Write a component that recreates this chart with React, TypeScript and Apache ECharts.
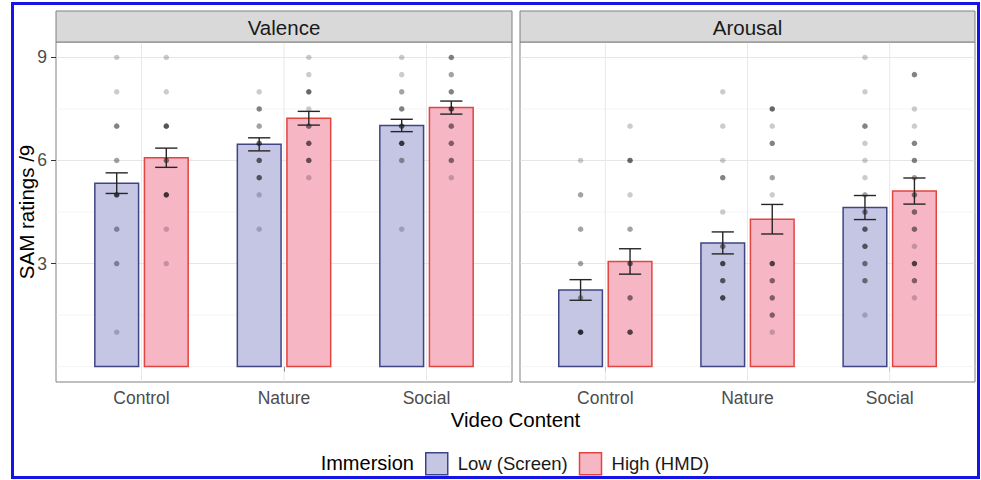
import React, { useEffect, useRef } from "react";
import * as echarts from "echarts";

// ---------- data ----------
const categories = ["Control", "Nature", "Social"];
const groupNames = ["Low (Screen)", "High (HMD)"];
const facetNames = ["Valence", "Arousal"];

const valenceLowMean = [5.34, 6.47, 7.02];
const valenceLowSE = [0.3, 0.19, 0.18];
const valenceHighMean = [6.08, 7.23, 7.54];
const valenceHighSE = [0.28, 0.2, 0.19];

const arousalLowMean = [2.23, 3.6, 4.63];
const arousalLowSE = [0.3, 0.32, 0.35];
const arousalHighMean = [3.06, 4.29, 5.11];
const arousalHighSE = [0.37, 0.43, 0.38];

const yTicks = [3, 6, 9];
const yMinorGrid = [0, 1.5, 4.5, 7.5];

// individual ratings: [category (1-based), rating, number of overlapping participants]
const valenceLowPts = [
  [1, 9, 1], [1, 8, 1], [1, 7, 3], [1, 6, 2], [1, 5, 6], [1, 4, 2], [1, 3, 2], [1, 1, 1],
  [2, 8, 1], [2, 7.5, 3], [2, 7, 2], [2, 6.5, 4], [2, 6, 4], [2, 5.5, 4], [2, 5, 1], [2, 4, 1],
  [3, 9, 1], [3, 8.5, 1], [3, 8, 2], [3, 7.5, 3], [3, 7, 4], [3, 6.5, 6], [3, 6, 2], [3, 4, 1],
];
const valenceHighPts = [
  [1, 9, 1], [1, 8, 1], [1, 7, 5], [1, 6, 3], [1, 5, 6], [1, 4, 1], [1, 3, 1],
  [2, 9, 1], [2, 8.5, 1], [2, 8, 4], [2, 7.5, 1], [2, 7, 3], [2, 6.5, 4], [2, 6, 4], [2, 5.5, 1],
  [3, 9, 3], [3, 8.5, 2], [3, 8, 3], [3, 7.5, 5], [3, 7, 3], [3, 6.5, 3], [3, 6, 3], [3, 5.5, 1],
];
const arousalLowPts = [
  [1, 6, 1], [1, 5, 2], [1, 4, 2], [1, 3, 2], [1, 2, 2], [1, 1, 7],
  [2, 8, 1], [2, 7, 1], [2, 6, 1], [2, 5.5, 3], [2, 4.5, 1], [2, 3.5, 3], [2, 3, 5], [2, 2.5, 4], [2, 2, 5],
  [3, 9, 1], [3, 8, 1], [3, 7, 3], [3, 6.5, 1], [3, 6, 1], [3, 5.5, 1], [3, 5, 2], [3, 4.5, 3],
  [3, 4, 4], [3, 3.5, 4], [3, 3, 3], [3, 2.5, 3], [3, 1.5, 1],
];
const arousalHighPts = [
  [1, 7, 1], [1, 6, 4], [1, 5, 1], [1, 4, 2], [1, 3, 4], [1, 2, 3], [1, 1, 5],
  [2, 7.5, 4], [2, 7, 1], [2, 6.5, 3], [2, 5.5, 2], [2, 5, 1], [2, 3, 5], [2, 2.5, 3], [2, 2, 3], [2, 1.5, 3], [2, 1, 1],
  [3, 8.5, 3], [3, 7.5, 1], [3, 7, 1], [3, 6.5, 3], [3, 6, 3], [3, 5.5, 2], [3, 5, 3], [3, 4.5, 3],
  [3, 4, 3], [3, 3.5, 1], [3, 3, 5], [3, 2.5, 3], [3, 2, 1],
];

// ---------- style ----------
const FONT = '"Liberation Sans", Arial, Helvetica, sans-serif';
const LOW_FILL = "#c5c6e4";
const LOW_STROKE = "#3f4484";
const HIGH_FILL = "#f6b6c4";
const HIGH_STROKE = "#e2443f";
const PANEL_BORDER = "#808080";
const DODGE = 0.174;
const BAR_HALF = 0.1535;
const CAP_HALF = 0.078;
const POINT_ALPHA = 0.2;

const facets = [
  {
    low: { mean: valenceLowMean, se: valenceLowSE, pts: valenceLowPts },
    high: { mean: valenceHighMean, se: valenceHighSE, pts: valenceHighPts },
  },
  {
    low: { mean: arousalLowMean, se: arousalLowSE, pts: arousalLowPts },
    high: { mean: arousalHighMean, se: arousalHighSE, pts: arousalHighPts },
  },
];

const panels = [
  { left: 56, width: 456 },
  { left: 520, width: 455 },
];
const PANEL_TOP = 42;
const PANEL_H = 340;
const STRIP_TOP = 11;

function buildSeries(f: number) {
  const fac = facets[f];
  const series: any[] = [];
  // grid lines
  const gridData: number[][] = [];
  yTicks.forEach((v) => gridData.push([1, v, 0]));
  yMinorGrid.forEach((v) => gridData.push([1, v, 1]));
  categories.forEach((_, i) => gridData.push([i + 1, 0, 2]));
  series.push({
    type: "custom",
    name: "grid" + f,
    xAxisIndex: f,
    yAxisIndex: f,
    z: 1,
    silent: true,
    data: gridData,
    renderItem: (params: any, api: any) => {
      const kind = api.value(2);
      if (kind === 2) {
        const x = api.value(0);
        const a = api.coord([x, 9.45]);
        const b = api.coord([x, -0.45]);
        return {
          type: "line",
          shape: { x1: a[0], y1: a[1] + 0.5, x2: b[0], y2: b[1] - 0.5 },
          style: { stroke: "#e8e8e8", lineWidth: 1 },
        };
      }
      const v = api.value(1);
      const a = api.coord([0.4, v]);
      const b = api.coord([3.6, v]);
      return {
        type: "line",
        shape: { x1: a[0] + 0.5, y1: a[1], x2: b[0] - 0.5, y2: b[1] },
        style: { stroke: kind === 0 ? "#e6e6e6" : "#f1f1f1", lineWidth: kind === 0 ? 1 : 0.8 },
      };
    },
  });

  const groups = [
    { g: fac.low, off: -DODGE, fill: LOW_FILL, stroke: LOW_STROKE, name: groupNames[0] },
    { g: fac.high, off: DODGE, fill: HIGH_FILL, stroke: HIGH_STROKE, name: groupNames[1] },
  ];

  groups.forEach((gr) => {
    series.push({
      type: "custom",
      name: gr.name,
      xAxisIndex: f,
      yAxisIndex: f,
      z: 2,
      itemStyle: { color: gr.fill, borderColor: gr.stroke },
      data: categories.map((_, i) => [i + 1 + gr.off, gr.g.mean[i]]),
      renderItem: (params: any, api: any) => {
        const x = api.value(0);
        const m = api.value(1);
        const p1 = api.coord([x - BAR_HALF, m]);
        const p2 = api.coord([x + BAR_HALF, 0]);
        return {
          type: "rect",
          shape: { x: p1[0], y: p1[1], width: p2[0] - p1[0], height: p2[1] - p1[1] },
          style: { fill: gr.fill, stroke: gr.stroke, lineWidth: 1.5 },
        };
      },
    });
  });

  groups.forEach((gr) => {
    series.push({
      type: "scatter",
      name: "pts" + f + gr.name,
      xAxisIndex: f,
      yAxisIndex: f,
      z: 3,
      silent: true,
      symbol: "circle",
      symbolSize: 5.5,
      itemStyle: { color: "#000" },
      data: gr.g.pts.map((p) => ({
        value: [p[0] + gr.off, p[1]],
        itemStyle: { opacity: 1 - Math.pow(1 - POINT_ALPHA, p[2]) },
      })),
    });
  });

  groups.forEach((gr) => {
    series.push({
      type: "custom",
      name: "err" + f + gr.name,
      xAxisIndex: f,
      yAxisIndex: f,
      z: 4,
      silent: true,
      data: categories.map((_, i) => [i + 1 + gr.off, gr.g.mean[i], gr.g.se[i]]),
      renderItem: (params: any, api: any) => {
        const x = api.value(0);
        const m = api.value(1);
        const se = api.value(2);
        const top = api.coord([x, m + se]);
        const bot = api.coord([x, m - se]);
        const l = api.coord([x - CAP_HALF, m])[0];
        const r = api.coord([x + CAP_HALF, m])[0];
        const st = { stroke: "#262626", lineWidth: 1.4 };
        return {
          type: "group",
          children: [
            { type: "line", shape: { x1: top[0], y1: top[1], x2: bot[0], y2: bot[1] }, style: st },
            { type: "line", shape: { x1: l, y1: top[1], x2: r, y2: top[1] }, style: st },
            { type: "line", shape: { x1: l, y1: bot[1], x2: r, y2: bot[1] }, style: st },
          ],
        };
      },
    });
  });
  return series;
}

function isInt(v: number) {
  return Math.abs(v - Math.round(v)) < 1e-6;
}

export default function App() {
  const ref = useRef<HTMLDivElement>(null);
  useEffect(() => {
    if (!ref.current) return;
    const chart = echarts.init(ref.current, undefined, { renderer: "svg" });
    const graphics: any[] = [];
    // outer blue frame
    graphics.push({
      type: "rect",
      shape: { x: 12.5, y: 3.5, width: 966, height: 474 },
      style: { fill: "none", stroke: "#1414e6", lineWidth: 3 },
      z: 100,
    });
    panels.forEach((p, f) => {
      graphics.push({
        type: "rect",
        shape: { x: p.left, y: STRIP_TOP, width: p.width, height: PANEL_TOP - STRIP_TOP },
        style: { fill: "#d9d9d9", stroke: PANEL_BORDER, lineWidth: 1 },
        z: 10,
      });
      graphics.push({
        type: "text",
        x: p.left + p.width / 2,
        y: (STRIP_TOP + PANEL_TOP) / 2 + 1,
        style: {
          text: facetNames[f],
          fontFamily: FONT,
          fontSize: 20.5,
          fill: "#1a1a1a",
          textAlign: "center",
          textVerticalAlign: "middle",
        },
        z: 11,
      });
    });
    graphics.push({
      type: "text",
      x: 26,
      y: PANEL_TOP + PANEL_H / 2,
      rotation: Math.PI / 2,
      style: {
        text: "SAM ratings /9",
        fontFamily: FONT,
        fontSize: 20.5,
        fill: "#000",
        textAlign: "center",
        textVerticalAlign: "middle",
      },
    });
    graphics.push({
      type: "text",
      x: (panels[0].left + panels[1].left + panels[1].width) / 2,
      y: 419,
      style: {
        text: "Video Content",
        fontFamily: FONT,
        fontSize: 20.5,
        fill: "#000",
        textAlign: "center",
        textVerticalAlign: "middle",
      },
    });
    graphics.push({
      type: "text",
      x: 414,
      y: 463,
      style: {
        text: "Immersion",
        fontFamily: FONT,
        fontSize: 20,
        fill: "#000",
        textAlign: "right",
        textVerticalAlign: "middle",
      },
    });

    const option: any = {
      animation: false,
      backgroundColor: "#ffffff",
      grid: panels.map((p) => ({
        left: p.left,
        top: PANEL_TOP,
        width: p.width,
        height: PANEL_H,
        show: true,
        backgroundColor: "#ffffff",
        borderColor: PANEL_BORDER,
        borderWidth: 1,
      })),
      xAxis: panels.map((_, f) => ({
        gridIndex: f,
        type: "value",
        min: 0.4,
        max: 3.6,
        axisLine: { show: false },
        splitLine: { show: false },
        axisTick: { show: true, customValues: [1, 2, 3], length: 5, lineStyle: { color: "#333", width: 1 } },
        axisLabel: {
          customValues: [1, 2, 3],
          formatter: (v: number) => (isInt(v) ? categories[Math.round(v) - 1] ?? "" : ""),
          fontFamily: FONT,
          fontSize: 17.5,
          color: "#4d4d4d",
          margin: 7,
        },
      })),
      yAxis: panels.map((_, f) => ({
        gridIndex: f,
        type: "value",
        min: -0.45,
        max: 9.45,
        axisLine: { show: false },
        splitLine: { show: false },
        axisTick: {
          show: f === 0,
          customValues: yTicks,
          length: 5,
          lineStyle: { color: "#333", width: 1 },
        },
        axisLabel: {
          show: f === 0,
          customValues: yTicks,
          fontFamily: FONT,
          fontSize: 17.5,
          color: "#4d4d4d",
          margin: 9,
        },
      })),
      legend: {
        left: 425,
        top: 452,
        padding: 0,
        orient: "horizontal",
        itemWidth: 22,
        itemHeight: 22,
        itemGap: 11,
        selectedMode: false,
        textStyle: { fontFamily: FONT, fontSize: 18.5, color: "#1a1a1a", padding: [0, 0, 0, 5] },
        data: [
          { name: groupNames[0], icon: "rect", itemStyle: { color: LOW_FILL, borderColor: LOW_STROKE, borderWidth: 1.5 } },
          { name: groupNames[1], icon: "rect", itemStyle: { color: HIGH_FILL, borderColor: HIGH_STROKE, borderWidth: 1.5 } },
        ],
      },
      graphic: graphics,
      series: [...buildSeries(0), ...buildSeries(1)],
    };
    chart.setOption(option);
    return () => chart.dispose();
  }, []);
  return (
    <div
      ref={ref}
      style={{ position: "absolute", left: 0, top: 0, width: 981, height: 480 }}
    />
  );
}
